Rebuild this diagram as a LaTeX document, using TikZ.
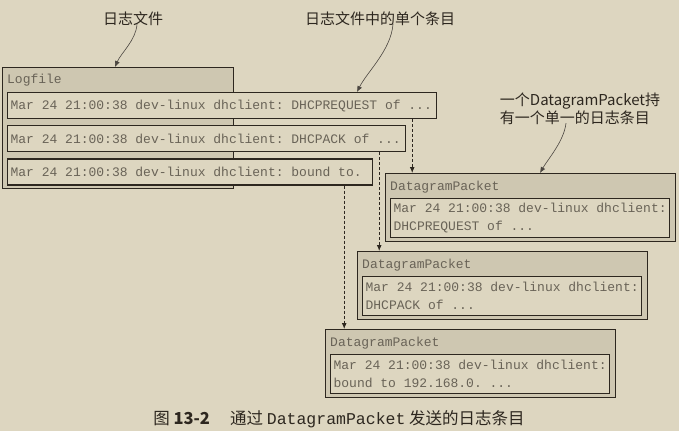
\documentclass[tikz,border=0pt]{standalone}
\usepackage{fontspec}
\setmainfont{Noto Sans CJK SC}
\setmonofont{Liberation Mono}
\newfontfamily\logfont{Liberation Mono}
\usetikzlibrary{arrows,arrows.meta,positioning}
\frenchspacing

\definecolor{paper}{RGB}{221,214,192}
\definecolor{shade}{RGB}{206,199,177}
\definecolor{ink}{RGB}{45,39,31}
\definecolor{logtext}{RGB}{105,99,87}

\newcommand{\logline}[2]{\makebox[#1][l]{#2}}

\tikzset{
  holder/.style={draw=ink, line width=1.2bp, fill=shade, anchor=north west, inner sep=0pt},
  holdername/.style={font=\logfont\fontsize{13bp}{18bp}\selectfont, text=logtext, anchor=west, inner sep=0pt},
  entry/.style={draw=ink, line width=1.2bp, fill=paper, anchor=north west,
    font=\logfont\fontsize{13bp}{18bp}\selectfont,
    text=logtext, inner xsep=3bp, inner ysep=2bp, minimum height=26bp},
  packetentry/.style={entry, align=left, minimum height=39bp},
  callout/.style={font=\fontsize{15bp}{18bp}\selectfont, text=ink, align=left, inner sep=0pt},
  pointer/.style={-{Latex[length=6bp,width=5bp]}, draw=ink!85, line width=0.6bp},
  flow/.style={-{Latex[length=6bp,width=5bp]}, draw=ink, line width=0.9bp, dash pattern=on 3bp off 2bp}
}

\begin{document}
\begin{tikzpicture}[x=1bp,y=-1bp]
	\fill[paper] (0,0) rectangle (679,431);
	\useasboundingbox (0,0) rectangle (679,431);

	% log file and its entries
	\node[holder, minimum width=231bp, minimum height=121bp] (logfile) at (2,67) {};
	\node[holdername] (logname) at (7,80) {Logfile};
	\node[entry] (e1) at (7,92) {\logline{423bp}{Mar 24 21:00:38 dev-linux dhclient: DHCPREQUEST of ...}};
	\node[entry, below=6bp of e1.south west, anchor=north west] (e2) {\logline{392bp}{Mar 24 21:00:38 dev-linux dhclient: DHCPACK of ...}};
	\node[entry, below=6bp of e2.south west, anchor=north west] (e3) {\logline{359bp}{Mar 24 21:00:38 dev-linux dhclient: bound to.}};

	% datagram packets
	\node[holder, minimum width=290bp, minimum height=68bp] (p1) at (385,173) {};
	\node[holdername] (p1name) at (390,187) {DatagramPacket};
	\node[packetentry, minimum width=278bp] (p1e) at (390,198) {Mar 24 21:00:38 dev-linux dhclient:\\DHCPREQUEST of ...};

	\node[holder, minimum width=290bp, minimum height=68bp] (p2) at (357,251) {};
	\node[holdername] (p2name) at (362,265) {DatagramPacket};
	\node[packetentry, minimum width=278bp] (p2e) at (362,276) {Mar 24 21:00:38 dev-linux dhclient:\\DHCPACK of ...};

	\node[holder, minimum width=290bp, minimum height=68bp] (p3) at (325,329) {};
	\node[holdername] (p3name) at (330,343) {DatagramPacket};
	\node[packetentry, minimum width=278bp] (p3e) at (330,354) {Mar 24 21:00:38 dev-linux dhclient:\\bound to 192.168.0. ...};

	% callouts
	\node[callout] (lbllog) at (133,19) {日志文件};
	\node[callout] (lblentry) at (380,19) {日志文件中的单个条目};
	\node[callout] (lblpacket) at (580,109) {一个DatagramPacket持\\有一个单一的日志条目};

	\draw[pointer] ([shift={(4bp,2bp)}]lbllog.south) .. controls +(-1,16) and +(6,-14) .. ([xshift=113bp]logfile.north west);
	\draw[pointer] ([shift={(13bp,2bp)}]lblentry.south) .. controls +(-2,26) and +(10,-20) .. ([xshift=350bp]e1.north west);
	\draw[pointer] ([shift={(-14bp,2bp)}]lblpacket.south) .. controls +(-2,18) and +(8,-14) .. ([xshift=155bp]p1.north west);

	% entries handed to packets
	\draw[flow] ([xshift=-25bp]e1.south east) -- ([xshift=-25bp]e1.south east |- p1.north);
	\draw[flow] ([xshift=-27bp]e2.south east) -- ([xshift=-27bp]e2.south east |- p2.north);
	\draw[flow] ([xshift=-29bp]e3.south east) -- ([xshift=-29bp]e3.south east |- p3.north);

	% caption
	\node[font=\fontsize{16.5bp}{20bp}\selectfont, text=ink] (caption) at (339,419) {图 \textbf{13-2}\quad\ 通过 {\logfont DatagramPacket} 发送的日志条目};
\end{tikzpicture}
\end{document}
